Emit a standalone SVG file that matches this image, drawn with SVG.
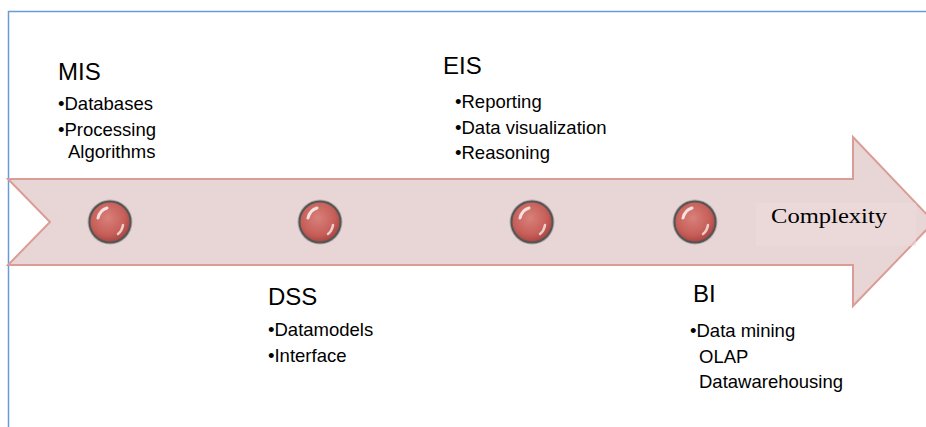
<svg xmlns="http://www.w3.org/2000/svg" width="926" height="427" viewBox="0 0 926 427">
<style>
.h{font-family:"Liberation Sans",Arial,sans-serif;font-size:24px;fill:#000}
.t{font-family:"Liberation Sans",Arial,sans-serif;font-size:18.5px;fill:#000}
.c{font-family:"Liberation Serif","Times New Roman",serif;font-size:21px;fill:#000}
</style>
<defs>
<radialGradient id="ball" cx="0.45" cy="0.4" r="0.6">
<stop offset="0" stop-color="#d9807a"/>
<stop offset="0.7" stop-color="#c65e58"/>
<stop offset="1" stop-color="#a8443f"/>
</radialGradient>
<g id="node">
<circle r="22.5" fill="#777" opacity="0.45"/>
<circle r="20.5" fill="url(#ball)" stroke="#555" stroke-width="2"/>
<path d="M-12,-4 Q-10,-12 -3,-14" stroke="#fff" stroke-width="3" fill="none" stroke-linecap="round" opacity="0.8"/>
<path d="M13,3 Q12,9 8,12" stroke="#fff" stroke-width="2.5" fill="none" stroke-linecap="round" opacity="0.7"/>
</g>
</defs>
<rect width="926" height="427" fill="#fff"/>
<path d="M8.5,427 V11.5 H926" fill="none" stroke="#6a9bd8" stroke-width="1.5"/>
<g id="connectors">
<path d="M8,179 H853 V137 L934,222 L853,306 V265 H8 L50,222 Z" fill="#e8d5d5" stroke="#dc9c96" stroke-width="2"/>
<rect x="756" y="203" width="160" height="43" fill="#eedcdc" opacity="0.5"/>
</g>
<g id="n1"><use href="#node" x="110" y="222"/>
<text class="h" x="58" y="80">MIS</text>
<text class="t" x="58" y="110">•Databases</text>
<text class="t" x="58" y="136">•Processing</text>
<text class="t" x="68" y="158">Algorithms</text></g>
<g id="n2"><use href="#node" x="320" y="222"/>
<text class="h" x="268" y="305">DSS</text>
<text class="t" x="268" y="336">•Datamodels</text>
<text class="t" x="268" y="362">•Interface</text></g>
<g id="n3"><use href="#node" x="532" y="222"/>
<text class="h" x="443" y="74">EIS</text>
<text class="t" x="455" y="108">•Reporting</text>
<text class="t" x="455" y="134">•Data visualization</text>
<text class="t" x="455" y="159">•Reasoning</text></g>
<g id="n4"><use href="#node" x="695" y="222"/>
<text class="h" x="693" y="302">BI</text>
<text class="t" x="690" y="337">•Data mining</text>
<text class="t" x="699" y="363">OLAP</text>
<text class="t" x="699" y="388">Datawarehousing</text></g>
<text class="c" x="771" y="223" textLength="116" lengthAdjust="spacingAndGlyphs">Complexity</text>
</svg>
